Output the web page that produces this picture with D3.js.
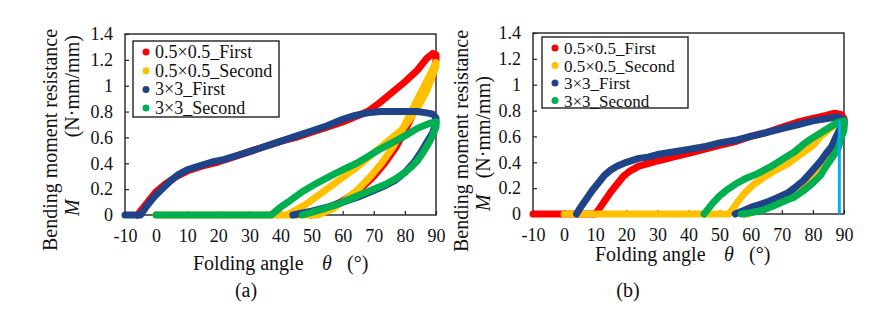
<!DOCTYPE html>
<html>
<head>
<meta charset="utf-8">
<script src="https://cdn.jsdelivr.net/npm/d3@7"></script>
<style>
body { margin: 0; background: #fff; }
svg { display: block; font-family: "Liberation Serif", "Times New Roman", serif; }
</style>
</head>
<body>
<svg width="885" height="313"></svg>
<script>
// ---- data: [angle, moment] ----
var seriesNames = ["0.5×0.5_First", "0.5×0.5_Second", "3×3_First", "3×3_Second"];
var seriesColors = ["#ff0000", "#ffc000", "#1f4388", "#00b050"];
var xTicks = [-10, 0, 10, 20, 30, 40, 50, 60, 70, 80, 90];
var yTicks = [0, 0.2, 0.4, 0.6, 0.8, 1, 1.2, 1.4];

// panel (a)
var aRedFirst = [[-6,0],[-4,0.06],[-2,0.12],[0,0.18],[3,0.24],[6,0.29],[10,0.34],[15,0.38],[20,0.41],[25,0.45],[30,0.49],[35,0.53],[40,0.57],[45,0.6],[50,0.64],[55,0.68],[60,0.72],[65,0.77],[68,0.8],[72,0.87],[76,0.95],[80,1.03],[84,1.12],[87,1.21],[89,1.25],[90,1.24],
  [90,1.2],[89,1.08],[86,0.94],[83,0.8],[80,0.65],[77,0.52],[73.5,0.4],[70,0.3],[67,0.23],[64,0.17],[60,0.11],[56,0.06],[52,0.02],[50,0]];
var aYellowSecond = [[0,0],[20,0],[40,0],[52,0],[54,0.02],[57,0.05],[61,0.12],[65,0.2],[69,0.3],[72.5,0.4],[76,0.52],[79,0.65],[82,0.8],[85,0.94],[88,1.08],[90,1.18],
  [90,1.15],[88.5,1.05],[87,0.96],[85,0.87],[83,0.79],[81,0.72],[79,0.66],[76,0.6],[73,0.54],[70,0.48],[67,0.42],[64,0.36],[60,0.29],[56,0.22],[52,0.15],[48,0.08],[45,0.04],[42,0]];
var aBlueFirst = [[-10,0],[-5,0],[-3,0.07],[-1,0.13],[1,0.18],[4,0.25],[7,0.31],[10,0.35],[14,0.38],[18,0.41],[22,0.43],[26,0.46],[30,0.49],[35,0.53],[40,0.57],[45,0.61],[50,0.65],[55,0.69],[60,0.74],[64,0.77],[68,0.79],[72,0.8],[78,0.8],[84,0.8],[87,0.79],[89,0.78],[90,0.75],
  [90,0.71],[89,0.64],[87,0.56],[85,0.48],[83,0.41],[80,0.33],[77,0.27],[73,0.22],[69,0.18],[65,0.14],[60,0.1],[55,0.06],[50,0.03],[46,0.01],[44,0]];
var aGreenSecond = [[0,0],[20,0],[37,0],[40,0.06],[43,0.11],[47,0.18],[51.6,0.245],[56,0.3],[60,0.35],[64.5,0.4],[68,0.45],[72,0.51],[76,0.56],[80.6,0.62],[84,0.67],[88,0.71],[90,0.72],
  [90,0.68],[89,0.62],[88,0.57],[86,0.49],[84,0.42],[82,0.37],[80,0.33],[77,0.28],[74,0.24],[70,0.2],[66,0.16],[62,0.12],[58,0.08],[54,0.05],[50,0.02],[47,0]];

// panel (b)
var bRedFirst = [[-10,0],[0,0],[10,0],[11,0.03],[13,0.1],[15,0.17],[17,0.23],[19,0.29],[21,0.33],[24,0.37],[27,0.39],[30,0.41],[35,0.44],[40,0.47],[45,0.5],[50,0.53],[55,0.56],[60,0.6],[65,0.63],[70,0.67],[75,0.71],[80,0.74],[84,0.76],[87,0.78],[89,0.77],[90,0.74],
  [90,0.68],[88,0.6],[86,0.5],[84,0.42],[82,0.35],[80,0.28],[77,0.22],[74,0.17],[70,0.12],[66,0.07],[62,0.03],[58,0]];
var bYellowSecond = [[0,0],[20,0],[40,0],[53,0],[54,0.03],[56,0.1],[58,0.16],[61,0.23],[64,0.28],[68,0.34],[72,0.39],[76,0.46],[80,0.53],[82.5,0.6],[85,0.65],[88,0.7],[90,0.71],
  [89,0.64],[87,0.55],[85,0.46],[83,0.39],[80,0.31],[77,0.25],[74,0.19],[70,0.14],[66,0.09],[62,0.05],[59,0]];
var bBlueFirst = [[4,0],[5,0.04],[7,0.11],[9,0.18],[11,0.24],[13,0.3],[15,0.34],[17,0.37],[20,0.4],[24,0.43],[27,0.44],[30,0.46],[35,0.48],[40,0.5],[45,0.52],[50,0.55],[55,0.57],[60,0.6],[65,0.63],[70,0.66],[75,0.69],[80,0.72],[85,0.74],[88,0.75],[90,0.73],
  [90,0.7],[89,0.67],[87.5,0.6],[86,0.52],[84,0.46],[82.5,0.41],[80,0.34],[77,0.26],[74,0.2],[71.8,0.16],[68,0.12],[65,0.09],[61,0.06],[58,0.03],[55,0]];
var bGreenSecond = [[45,0],[46,0.03],[48,0.09],[50,0.14],[52,0.18],[55,0.23],[58,0.27],[62,0.31],[66,0.36],[70,0.42],[74,0.48],[77,0.54],[80,0.59],[84,0.65],[88,0.71],[90,0.72],
  [90,0.65],[89,0.58],[88,0.5],[86,0.43],[84,0.36],[82.5,0.3],[80,0.24],[77,0.18],[74,0.13],[71.8,0.11],[68,0.07],[64,0.03],[60,0.01],[57,0]];
var bDrop = [[88.5,0],[88.5,0.72]];

// ---- layout ----
var panels = [
  { series: [aRedFirst, aYellowSecond, aBlueFirst, aGreenSecond], drop: null,
    left: 125, right: 436, top: 34, bottom: 215,
    legend: { x: 133, y: 41, w: 146, h: 76, row: 18.7, font: 18 },
    yTitle: { x1: 57, x2: 79, cy: 140, mStart: 216, mGap: 62 },
    xTitle: { x: 193, y: 270 }, tag: { x: 246, y: 297, text: "(a)" } },
  { series: [bRedFirst, bYellowSecond, bBlueFirst, bGreenSecond], drop: bDrop,
    left: 533, right: 844, top: 33, bottom: 214,
    legend: { x: 542, y: 37, w: 146, h: 71, row: 17.5, font: 17 },
    yTitle: { x1: 468, x2: 490, cy: 141, mStart: 211, mGap: 16 },
    xTitle: { x: 595, y: 261 }, tag: { x: 628, y: 297, text: "(b)" } }
];

var svg = d3.select("svg");
svg.append("rect").attr("width", 885).attr("height", 313).attr("fill", "#fff");

panels.forEach(drawPanel);

function drawPanel(p) {
  var x = d3.scaleLinear().domain([-10, 90]).range([p.left, p.right]);
  var y = d3.scaleLinear().domain([0, 1.4]).range([p.bottom, p.top]);
  var g = svg.append("g");

  // frame
  g.append("rect")
    .attr("x", p.left).attr("y", p.top)
    .attr("width", p.right - p.left).attr("height", p.bottom - p.top)
    .attr("fill", "none").attr("stroke", "#222").attr("stroke-width", 1.4);

  var xAxis = g.append("g")
    .attr("transform", "translate(0," + p.bottom + ")")
    .call(d3.axisBottom(x).tickValues(xTicks).tickSize(-4).tickPadding(14)
      .tickFormat(function (d) { return String(d); }));
  var yAxis = g.append("g")
    .attr("transform", "translate(" + p.left + ",0)")
    .call(d3.axisLeft(y).tickValues(yTicks).tickSize(-4).tickPadding(12)
      .tickFormat(function (d) { return String(+d.toFixed(1)); }));

  [xAxis, yAxis].forEach(function (a) {
    a.select(".domain").remove();
    a.selectAll(".tick line").attr("stroke", "#222").attr("stroke-width", 1.2);
    a.selectAll("text").attr("fill", "#111")
      .style("font-family", "'Liberation Serif', serif").style("font-size", "18px");
  });

  // curves
  var line = d3.line()
    .x(function (d) { return x(d[0]); })
    .y(function (d) { return y(d[1]); });

  p.series.forEach(function (s, i) {
    g.append("path")
      .datum(s)
      .attr("d", line)
      .attr("fill", "none")
      .attr("stroke", seriesColors[i])
      .attr("stroke-width", 7)
      .attr("stroke-linecap", "round")
      .attr("stroke-linejoin", "round");
  });

  if (p.drop) {
    g.append("path")
      .datum(p.drop)
      .attr("d", line)
      .attr("stroke", "#00b0f0")
      .attr("stroke-width", 3);
  }

  // legend
  var L = p.legend;
  var lg = g.append("g");
  lg.append("rect")
    .attr("x", L.x).attr("y", L.y).attr("width", L.w).attr("height", L.h)
    .attr("fill", "#fff").attr("stroke", "#222").attr("stroke-width", 1.4);
  seriesNames.forEach(function (name, i) {
    var cy = L.y + 11 + i * L.row;
    lg.append("circle")
      .attr("cx", L.x + 13).attr("cy", cy).attr("r", 3.5)
      .attr("fill", seriesColors[i]);
    lg.append("text")
      .attr("x", L.x + 22).attr("y", cy + 6)
      .style("font-size", L.font + "px").attr("fill", "#111")
      .text(name);
  });

  // y title (two rotated lines)
  var t = p.yTitle;
  g.append("text")
    .attr("transform", "translate(" + t.x1 + "," + t.cy + ") rotate(-90)")
    .attr("text-anchor", "middle")
    .style("font-size", "20px").attr("fill", "#111")
    .text("Bending moment resistance");
  var t2 = g.append("text")
    .attr("transform", "translate(" + t.x2 + "," + t.mStart + ") rotate(-90)")
    .style("font-size", "20px").attr("fill", "#111");
  t2.append("tspan").style("font-style", "italic").text("M");
  t2.append("tspan").attr("dx", t.mGap).text("(N·mm/mm)");

  // x title
  var xt = g.append("text")
    .attr("x", p.xTitle.x).attr("y", p.xTitle.y)
    .style("font-size", "20px").attr("fill", "#111");
  xt.append("tspan").text("Folding angle");
  xt.append("tspan").attr("x", p.xTitle.x + 129).style("font-style", "italic").text("θ");
  xt.append("tspan").attr("x", p.xTitle.x + 154).text("(°)");

  g.append("text")
    .attr("x", p.tag.x).attr("y", p.tag.y)
    .attr("text-anchor", "middle")
    .style("font-size", "20px").attr("fill", "#111")
    .text(p.tag.text);
}
</script>
</body>
</html>
